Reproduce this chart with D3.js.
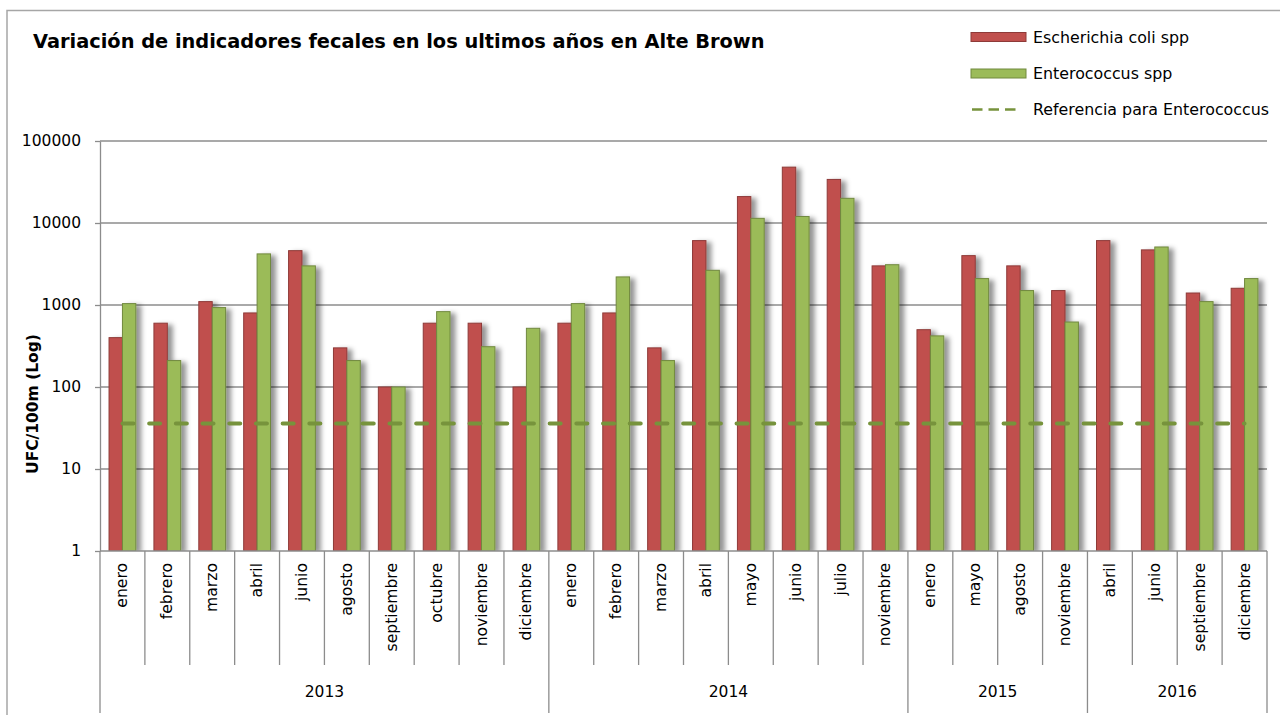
<!DOCTYPE html>
<html><head><meta charset="utf-8">
<script src="https://cdn.jsdelivr.net/npm/d3@7/dist/d3.min.js"></script>
<style>body{margin:0;background:#fff}svg{display:block}</style>
</head><body><svg id="c" width="1280" height="715"></svg>
<script>
const months = ["enero","febrero","marzo","abril","junio","agosto","septiembre","octubre","noviembre","diciembre",
  "enero","febrero","marzo","abril","mayo","junio","julio","noviembre",
  "enero","mayo","agosto","noviembre",
  "abril","junio","septiembre","diciembre"];
const yearLabels = ["2013","2014","2015","2016"];
const yearCounts = [10,8,4,4];
const ecoli = [400,600,1100,800,4600,300,100,600,600,100,
  600,800,300,6100,21000,48000,34000,3000,
  500,4000,3000,1500,
  6100,4700,1400,1600];
const entero = [1040,210,930,4200,3000,210,100,830,310,520,
  1040,2200,210,2650,11400,12000,20000,3100,
  420,2100,1500,620,
  null,5100,1100,2100];
const referencia = 36;
const yTicks = [1,10,100,1000,10000,100000];
const seriesNames = ["Escherichia coli spp","Enterococcus spp","Referencia para Enterococcus"];
const titleText = "Variación de indicadores fecales en los ultimos años en Alte Brown";
const yTitle = "UFC/100m (Log)";

const colRed = "#C0504D", colRedS = "#8E3A38", colGreen = "#9BBB59", colGreenS = "#71893F", colRef = "#77933C";
const gridCol = "#8c8c8c", F = "DejaVu Sans, Verdana, sans-serif";

const svg = d3.select("#c");
const L = 100, R = 1267, T = 141, B = 551;
const idx = d3.range(months.length);
const x = d3.scaleBand().domain(idx).range([L, R]).padding(0);
const xs = d3.scaleBand().domain([0,1]).range([0, x.bandwidth()]).paddingInner(0).paddingOuter(0.675);
const y = d3.scaleLog().domain([1,100000]).range([B, T]);

const defs = svg.append("defs");
const f = defs.append("filter").attr("id","sh").attr("x","-30%").attr("y","-10%").attr("width","180%").attr("height","120%");
f.append("feDropShadow").attr("dx",5).attr("dy",2).attr("stdDeviation",2.8).attr("flood-color","#000").attr("flood-opacity",0.42);
defs.append("clipPath").attr("id","plot").append("rect").attr("x",L).attr("y",T-20).attr("width",R-L+20).attr("height",B-T+20);

// chart border
svg.append("path").attr("d","M7,715 V10.5 H1280").attr("fill","none").attr("stroke","#a6a6a6").attr("stroke-width",1.5);

// title
const tt = svg.append("text").attr("x",33).attr("y",48).attr("font-family",F).attr("font-weight","bold")
  .attr("font-size",18).attr("fill","#000").text(titleText);
(function fit(){ const w = tt.node().getComputedTextLength(); tt.attr("font-size", 18*732/w); })();

// gridlines
svg.append("g").selectAll("line").data(yTicks.slice(1)).join("line")
  .attr("x1",L).attr("x2",R).attr("y1",d=>y(d)).attr("y2",d=>y(d))
  .attr("stroke",gridCol).attr("stroke-width",1.3);

// y axis
const ya = svg.append("g").attr("transform",`translate(${L},0)`)
  .call(d3.axisLeft(y).tickValues(yTicks).tickFormat(d3.format("d")).tickSize(5).tickSizeOuter(0).tickPadding(14));
ya.select(".domain").attr("stroke",gridCol).attr("stroke-width",1.3);
ya.selectAll(".tick line").attr("stroke",gridCol).attr("stroke-width",1.3);
ya.selectAll(".tick text").attr("font-family",F).attr("font-size",15.5).attr("fill","#000");

svg.append("text").attr("transform","translate(38,404) rotate(-90)").attr("text-anchor","middle")
  .attr("font-family",F).attr("font-weight","bold").attr("font-size",15.5).attr("fill","#000").text(yTitle);

// bars
const plot = svg.append("g").attr("clip-path","url(#plot)");
plot.append("g").attr("filter","url(#sh)").selectAll("rect").data(idx.filter(i=>ecoli[i]!=null)).join("rect")
  .attr("x",i=>x(i)+xs(0)).attr("width",xs.bandwidth()).attr("y",i=>y(ecoli[i])).attr("height",i=>B-y(ecoli[i]))
  .attr("fill",colRed).attr("stroke",colRedS).attr("stroke-width",1);
plot.append("g").attr("filter","url(#sh)").selectAll("rect").data(idx.filter(i=>entero[i]!=null)).join("rect")
  .attr("x",i=>x(i)+xs(1)).attr("width",xs.bandwidth()).attr("y",i=>y(entero[i])).attr("height",i=>B-y(entero[i]))
  .attr("fill",colGreen).attr("stroke",colGreenS).attr("stroke-width",1);

// reference dashed line
const line = d3.line().x(i=>x(i)+x.bandwidth()/2).y(()=>y(referencia));
svg.append("path").attr("d",line(idx)).attr("fill","none").attr("stroke",colRef).attr("stroke-width",4)
  .attr("stroke-dasharray","11,15.7").attr("stroke-linecap","round");

// x axis baseline
svg.append("line").attr("x1",L).attr("x2",R).attr("y1",B).attr("y2",B).attr("stroke",gridCol).attr("stroke-width",1.3);

// category boundaries
const yearStarts = yearCounts.map((c,k)=>d3.sum(yearCounts.slice(0,k)));
const boundaries = d3.range(months.length+1);
svg.append("g").selectAll("line").data(boundaries).join("line")
  .attr("x1",i=>i<months.length?x(i):R).attr("x2",i=>i<months.length?x(i):R)
  .attr("y1",B).attr("y2",i=>(yearStarts.includes(i)||i===months.length)?713:665)
  .attr("stroke",gridCol).attr("stroke-width",1.3);

// month labels
svg.append("g").selectAll("text").data(idx).join("text")
  .attr("transform",i=>`translate(${x(i)+x.bandwidth()/2},563) rotate(-90)`)
  .attr("text-anchor","end").attr("dominant-baseline","central")
  .attr("font-family",F).attr("font-size",15.6).attr("fill","#000").text(i=>months[i]);

// year labels
svg.append("g").selectAll("text").data(yearLabels).join("text")
  .attr("x",(d,k)=>(x(yearStarts[k]) + (k<yearLabels.length-1?x(yearStarts[k+1]):R))/2)
  .attr("y",697).attr("text-anchor","middle")
  .attr("font-family",F).attr("font-size",15.5).attr("fill","#000").text(d=>d);

// legend
const lg = svg.append("g");
const ly = [37, 73.5, 109.5];
lg.append("rect").attr("x",971).attr("y",ly[0]-4.5).attr("width",55).attr("height",9).attr("fill",colRed).attr("stroke",colRedS);
lg.append("rect").attr("x",971).attr("y",ly[1]-4.5).attr("width",55).attr("height",9).attr("fill",colGreen).attr("stroke",colGreenS);
lg.append("line").attr("x1",972).attr("x2",1017).attr("y1",ly[2]).attr("y2",ly[2]).attr("stroke",colRef)
  .attr("stroke-width",2.5).attr("stroke-dasharray","10.5,6");
const lt = lg.selectAll("text").data(seriesNames).join("text").attr("x",1033).attr("y",(d,k)=>ly[k])
  .attr("dominant-baseline","central").attr("font-family",F).attr("font-size",15).attr("fill","#000").text(d=>d);
const n3 = lt.nodes()[2]; const w3 = n3.getComputedTextLength();
lt.attr("font-size", 15*236/w3);
</script></body></html>
